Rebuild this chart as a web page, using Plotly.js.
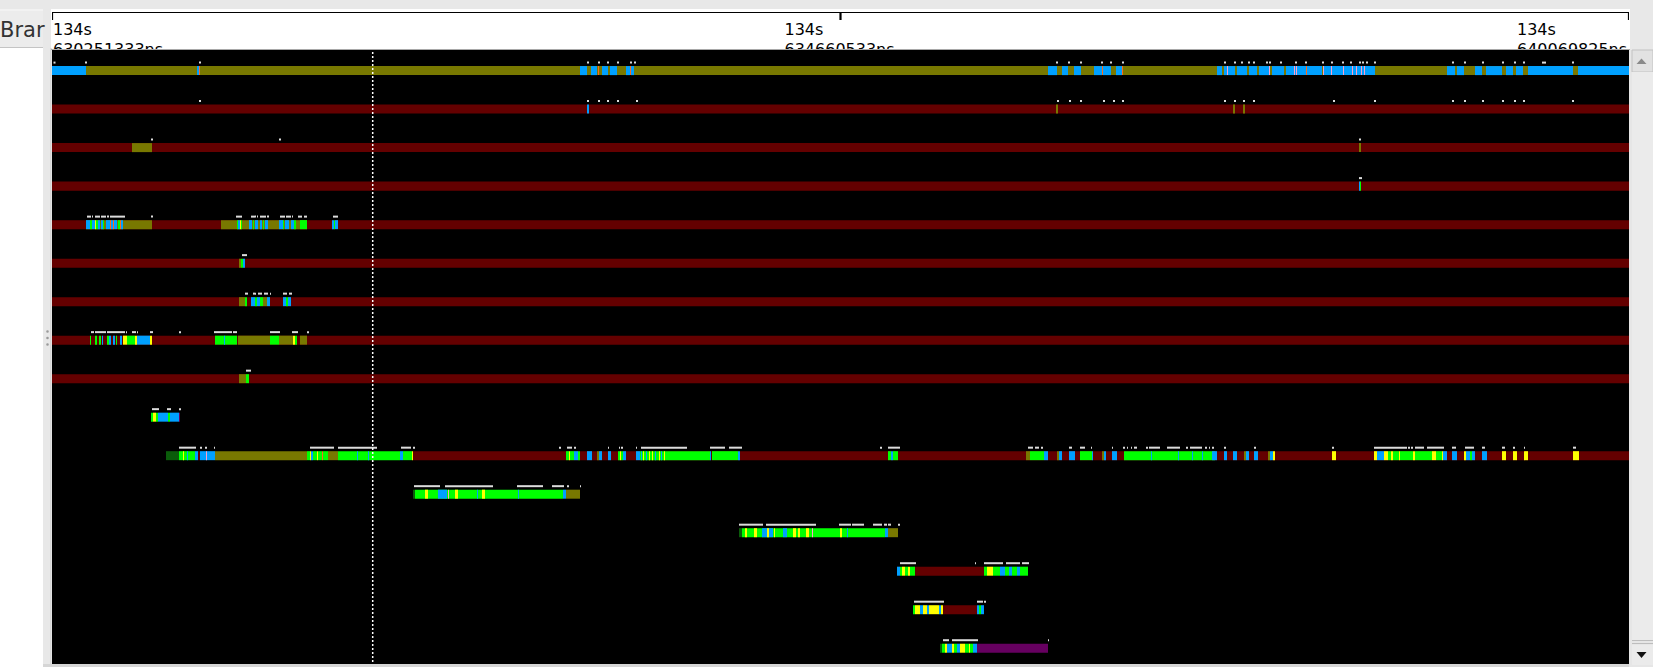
<!DOCTYPE html>
<html>
<head>
<meta charset="utf-8">
<script src="https://cdn.plot.ly/plotly-3.0.1.min.js"></script>
<style>
html,body{margin:0;padding:0;background:#fff;overflow:hidden;}
#chart{width:1653px;height:667px;}
</style>
</head>
<body>
<div id="chart"></div>
<script>
// ---------------- DATA ----------------
// time axis: units of the visible window (0 = window start, 1577 = window end)
const windowRange = [0, 1577];
const tickVals = [0, 788.5, 1577];
const tickLine1 = ['134s', '134s', '134s'];
const tickLine2 = ['630251333ns', '634660533ns', '640069825ns'];
const cursorTime = 320.7;
const sideLabel = 'Brar';

// segments per row: [start, end, state]
const row0 = [[0,1577,'O'],[0,34,'B'],[145,147,'B'],[147,148,'N'],
 [528,535,'B'],[539,545,'B'],[546,547,'N'],[550,556,'B'],[558,565,'B'],[574,578,'B'],[578,579,'N'],[579,582,'B'],
 [996,1005,'B'],[1010,1016,'B'],[1022,1029,'B'],[1042,1050,'B'],[1050,1051,'N'],[1051,1059,'B'],[1064,1070,'B'],[1070,1071,'N'],
 [1165,1170,'B'],[1172,1183,'B'],[1185,1195,'B'],[1197,1205,'B'],[1207,1218,'B'],[1220,1232,'B'],[1234,1270,'B'],[1272,1323,'B'],
 [1175,1176,'K'],[1217,1218,'K'],[1242,1243,'K'],[1244,1245,'K'],[1254,1255,'N'],[1271,1272,'K'],[1279,1280,'K'],[1291,1292,'K'],[1300,1301,'K'],[1304,1305,'K'],[1309,1310,'K'],[1312,1313,'K'],
 [1395,1403,'B'],[1405,1412,'B'],[1423,1430,'B'],[1434,1450,'B'],[1454,1461,'B'],[1464,1471,'B'],[1476,1521,'B'],[1526,1577,'B']];
const row1 = [[0,1577,'R'],[535,537,'B'],[1004,1006,'O'],[1181,1183,'O'],[1191,1193,'O']];
const row2 = [[0,1577,'R'],[80,100,'O'],[1307,1309,'O']];
const row3 = [[0,1577,'R'],[1307,1308,'B'],[1308,1309,'G']];
const row4 = [[0,1577,'R'],[34,100,'O'],[34,38,'B'],[38,40,'G'],[40,43,'B'],[43,44,'Y'],[44,46,'G'],[46,48,'B'],[49,51,'B'],[51,52,'G'],[54,58,'B'],[58,59,'N'],[59,61,'B'],[61,62,'N'],[62,65,'B'],[66,68,'G'],[68,69,'N'],[69,71,'B'],
 [169,255,'O'],[185,186,'G'],[186,188,'B'],[188,189,'Y'],[189,190,'G'],[197,200,'B'],[201,202,'G'],[203,206,'B'],[208,210,'B'],[211,212,'G'],[213,216,'B'],[227,231,'B'],[231,232,'G'],[233,237,'B'],[239,242,'B'],[242,244,'G'],[248,255,'G'],
 [280,282,'B'],[282,283,'G'],[283,286,'B']];
const row5 = [[0,1577,'R'],[187,189,'O'],[189,191,'G'],[191,193,'B']];
const row6 = [[0,1577,'R'],[187,193,'O'],[193,195,'G'],[199,203,'B'],[203,205,'G'],[205,208,'B'],[208,211,'G'],[211,215,'O'],[215,218,'B'],[231,234,'B'],[234,236,'G'],[236,239,'B']];
const row7 = [[0,1577,'R'],[38,39,'G'],[43,45,'G'],[47,49,'G'],[50,51,'B'],[55,57,'G'],[57,59,'B'],[61,63,'B'],[64,65,'G'],[68,70,'B'],[71,75,'Y'],[75,83,'G'],[83,85,'Y'],[85,98,'B'],[98,100,'Y'],
 [163,185,'G'],[172,173,'B'],[186,218,'O'],[218,227,'G'],[227,241,'O'],[241,243,'Y'],[243,245,'G'],[248,255,'O']];
const row8 = [[0,1577,'R'],[187,194,'O'],[194,197,'G']];
const row9 = [[99,101,'G'],[101,104,'Y'],[104,106,'G'],[106,116,'B'],[116,118,'G'],[118,127,'B'],[127,128,'P']];
const row10 = [[114,127,'D'],[127,143,'G'],[131,132,'Y'],[135,136,'B'],[143,146,'B'],[146,148,'R'],[148,163,'B'],[154,155,'K'],[163,255,'O'],
 [255,258,'G'],[258,259,'Y'],[259,261,'B'],[261,265,'G'],[265,266,'Y'],[266,270,'G'],[270,271,'N'],[271,276,'G'],[276,286,'O'],
 [286,348,'G'],[305,306,'B'],[316,317,'B'],[348,351,'B'],[351,360,'G'],[360,361,'Y'],
 [361,1577,'R'],
 [514,517,'G'],[517,518,'Y'],[518,522,'G'],[522,526,'B'],[526,528,'G'],
 [535,540,'B'],[545,547,'O'],[547,550,'B'],[556,559,'B'],[566,568,'G'],[568,569,'Y'],[569,571,'G'],[571,574,'B'],[584,588,'B'],
 [588,625,'G'],[589,590,'B'],[591,592,'Y'],[594,595,'B'],[597,598,'Y'],[600,601,'Y'],[603,604,'B'],[607,608,'Y'],[609,610,'B'],[612,613,'Y'],
 [625,658,'G'],[658,659,'B'],[660,686,'G'],[686,688,'B'],
 [836,839,'G'],[839,841,'B'],[841,846,'G'],
 [974,978,'O'],[978,992,'G'],[992,996,'B'],
 [1005,1007,'O'],[1007,1010,'B'],[1017,1023,'B'],[1028,1040,'G'],[1040,1041,'B'],[1050,1052,'O'],[1052,1054,'B'],[1060,1065,'B'],
 [1072,1163,'G'],[1099,1100,'B'],[1126,1127,'B'],[1140,1141,'B'],[1150,1151,'B'],[1160,1165,'B'],
 [1172,1175,'B'],[1181,1185,'B'],[1192,1194,'O'],[1194,1197,'B'],[1202,1206,'B'],[1216,1218,'O'],[1218,1221,'B'],[1221,1223,'Y'],
 [1280,1284,'Y'],
 [1322,1325,'Y'],[1325,1332,'B'],[1332,1336,'Y'],[1336,1339,'G'],[1339,1341,'Y'],[1341,1347,'G'],[1347,1348,'Y'],[1348,1361,'G'],[1361,1363,'Y'],[1363,1380,'G'],[1380,1384,'Y'],[1384,1390,'G'],[1390,1391,'Y'],[1391,1395,'B'],
 [1400,1405,'B'],[1412,1414,'Y'],[1414,1418,'B'],[1418,1420,'G'],[1420,1423,'B'],[1430,1435,'B'],[1450,1454,'Y'],[1461,1465,'Y'],[1472,1476,'Y'],[1521,1527,'Y']];
const row11 = [[361,363,'D'],[363,511,'G'],[373,376,'Y'],[386,395,'B'],[396,397,'K'],[403,406,'Y'],[425,426,'B'],[430,433,'Y'],[466,467,'B'],[511,514,'B'],[514,528,'O']];
const row12 = [[687,690,'D'],[690,833,'G'],[693,695,'Y'],[702,705,'Y'],[710,721,'B'],[715,717,'Y'],[722,723,'Y'],[731,735,'B'],[741,744,'Y'],[746,748,'Y'],[754,757,'Y'],[760,761,'K'],[788,790,'Y'],[795,796,'B'],[833,836,'B'],[836,846,'O']];
const row13 = [[845,848,'B'],[848,850,'G'],[850,853,'Y'],[853,856,'G'],[856,858,'Y'],[858,863,'G'],[863,932,'R'],[932,935,'G'],[935,941,'Y'],[941,948,'G'],[948,953,'B'],[953,957,'G'],[957,960,'B'],[960,965,'G'],[965,968,'B'],[968,976,'G']];
const row14 = [[861,863,'G'],[863,868,'Y'],[868,871,'B'],[871,875,'Y'],[875,877,'B'],[877,887,'Y'],[887,889,'B'],[889,891,'Y'],[891,925,'R'],[925,927,'B'],[927,929,'G'],[929,932,'B']];
const row15 = [[888,890,'D'],[890,893,'G'],[893,895,'Y'],[895,900,'B'],[900,902,'Y'],[902,905,'G'],[905,908,'B'],[908,913,'Y'],[913,917,'G'],[917,918,'Y'],[918,921,'G'],[921,925,'B'],[925,996,'P']];

// event marks above each row: [start, end]
const marks0 = [[1.5,3.5],[33,35],[147,149],[535,537],[546,548],[555,557],[565,567],[578,580],[582,584],[1004,1006],[1016,1018],[1028,1030],[1049,1051],[1058,1060],[1070,1072],[1172,1174],[1182,1184],[1189,1191],[1196,1198],[1201,1203],[1214,1216],[1217,1219],[1228,1230],[1243,1245],[1253,1255],[1270,1272],[1279,1281],[1290,1292],[1298,1300],[1307,1309],[1310,1312],[1314,1316],[1322,1324],[1400,1402],[1412,1414],[1430,1432],[1450,1452],[1462,1464],[1471,1473],[1490,1494],[1520,1522]];
const marks1 = [[147,149],[535,537],[546,548],[555,557],[565,567],[584,586],[1005,1007],[1017,1019],[1028,1030],[1051,1053],[1061,1063],[1070,1072],[1172,1174],[1182,1184],[1191,1193],[1201,1203],[1281,1283],[1322,1324],[1400,1402],[1412,1414],[1430,1432],[1450,1452],[1462,1464],[1471,1473],[1520,1522]];
const marks2 = [[99,101],[227,229],[1307,1309]];
const marks3 = [[1307,1310]];
const marks4 = [[35,39],[40,41],[43,48],[49,54],[55,57],[58,73],[99,101],[184,190],[199,204],[205,206],[208,214],[215,217],[228,233],[234,239],[240,241],[246,250],[252,255],[281,286]];
const marks5 = [[190,195]];
const marks6 = [[193,196],[201,204],[206,210],[212,216],[218,219],[231,235],[237,240]];
const marks7 = [[39,42],[43,54],[55,73],[74,75],[80,84],[85,86],[98,101],[127,129],[162,180],[181,185],[218,228],[240,246],[255,257]];
const marks8 = [[194,199]];
const marks9 = [[100,107],[115,119],[127,129]];
const marks10 = [[127,144],[148,150],[153,155],[162,163],[258,282],[286,325],[349,359],[361,363],[507,509],[515,520],[522,524],[556,557],[567,568],[569,571],[584,585],[589,635],[658,673],[677,690],[828,830],[836,848],[976,981],[983,987],[989,991],[1017,1020],[1028,1033],[1039,1040],[1060,1061],[1071,1073],[1075,1076],[1079,1080],[1082,1085],[1094,1096],[1097,1108],[1115,1128],[1134,1136],[1138,1150],[1153,1155],[1157,1158],[1160,1162],[1172,1174],[1202,1204],[1280,1282],[1322,1355],[1356,1358],[1359,1361],[1363,1372],[1375,1392],[1400,1404],[1413,1422],[1430,1433],[1450,1453],[1461,1463],[1472,1473],[1521,1524]];
const marks11 = [[362,388],[393,441],[465,491],[500,512],[515,517],[528,529]];
const marks12 = [[687,711],[714,764],[787,799],[800,812],[821,830],[832,835],[836,839],[846,848]];
const marks13 = [[848,864],[923,924],[932,951],[954,968],[970,977]];
const marks14 = [[862,892],[925,931],[932,934]];
const marks15 = [[891,897],[900,926],[996,997]];

// ---------------- STYLE ----------------
const W = 1653, H = 667;
const stateOrder = ['R','O','D','P','G','B','Y','K','N'];
const stateColors = {R:'#640000', O:'#787800', D:'#0a5c0a', P:'#660060', G:'#00ff00', B:'#00a0ff', Y:'#ffff00', K:'#ff9ec8', N:'#ff6a1a'};
const barThickness = 0.234;
const markThickness = 0.052;
const markOffset = -0.234;
const markColor = '#dcdcdc';
const labelWidth = 112;
const labelAnchor = [0, 0.5, 1];

const rows = [row0,row1,row2,row3,row4,row5,row6,row7,row8,row9,row10,row11,row12,row13,row14,row15];
const marks = [marks0,marks1,marks2,marks3,marks4,marks5,marks6,marks7,marks8,marks9,marks10,marks11,marks12,marks13,marks14,marks15];

const traces = [];
stateOrder.forEach(st => {
  const ys = [], bases = [], lens = [];
  rows.forEach((segs, r) => segs.forEach(s => {
    if (s[2] === st) { ys.push(r); bases.push(s[0]); lens.push(s[1] - s[0]); }
  }));
  traces.push({type:'bar', orientation:'h', y:ys, x:lens, base:bases, width:barThickness,
    marker:{color:stateColors[st], line:{width:0}}, hoverinfo:'skip', xaxis:'x', yaxis:'y'});
});
{
  const ys = [], bases = [], lens = [];
  marks.forEach((m, r) => m.forEach(s => { ys.push(r); bases.push(s[0]); lens.push(s[1] - s[0]); }));
  traces.push({type:'bar', orientation:'h', y:ys, x:lens, base:bases, width:markThickness, offset:markOffset,
    marker:{color:markColor, line:{width:0}}, hoverinfo:'skip', xaxis:'x', yaxis:'y'});
}
// cursor line
traces.push({type:'scatter', mode:'lines', x:[cursorTime, cursorTime], y:[-1, 16],
  line:{color:'#ffffff', width:1.5, dash:'2px,2px'}, hoverinfo:'skip', xaxis:'x', yaxis:'y', cliponaxis:true});

// header ruler: top line + tick marks
{
  const rx = [windowRange[0], windowRange[1], null], ry = [1, 1, null];
  tickVals.forEach(v => { rx.push(v, v, null); ry.push(1, 0.784, null); });
  traces.push({type:'scatter', mode:'lines', xaxis:'x2', yaxis:'y2', cliponaxis:false, x:rx, y:ry,
    line:{color:'#000000', width:2.2}, hoverinfo:'skip', connectgaps:false});
}
// header tick labels (clipped by the header area)
const lblX = tickVals.map((v,i) => v - labelWidth*labelAnchor[i] + (i===0 ? 1 : 0));
traces.push({type:'scatter', mode:'text', xaxis:'x2', yaxis:'y2', cliponaxis:true,
  x: lblX, y: [0.476,0.476,0.476], text: tickLine1, textposition:'middle right',
  textfont:{family:'DejaVu Sans, sans-serif', size:16, color:'#000'}, hoverinfo:'skip'});
traces.push({type:'scatter', mode:'text', xaxis:'x2', yaxis:'y2', cliponaxis:true,
  x: lblX, y: [0.16,0.16,0.16], text: tickLine2, textposition:'bottom right',
  textfont:{family:'DejaVu Sans, sans-serif', size:16, color:'#000'}, hoverinfo:'skip'});

const px = x => x / W, py = y => 1 - y / H;
function rect(x0,y0,x1,y1,fill,line){
  return {type:'rect', xref:'paper', yref:'paper', x0:px(x0), x1:px(x1), y0:py(y1), y1:py(y0),
    fillcolor:fill, line: line ? {color:line, width:1} : {width:0}, layer:'below'};
}
function hline(x0,x1,y,color){
  return {type:'line', xref:'paper', yref:'paper', x0:px(x0), x1:px(x1), y0:py(y), y1:py(y), line:{color:color, width:1}, layer:'below'};
}
function tri(pts, fill){
  const d = 'M' + pts.map(p => px(p[0]) + ',' + py(p[1])).join(' L') + ' Z';
  return {type:'path', xref:'paper', yref:'paper', path:d, fillcolor:fill, line:{width:0}, layer:'above'};
}
function dot(x,y,r,fill){
  return {type:'circle', xref:'paper', yref:'paper', x0:px(x-r), x1:px(x+r), y0:py(y+r), y1:py(y-r), fillcolor:fill, line:{width:0}, layer:'above'};
}

const xDomain = [52/W, 1629/W];
const shapes = [
  {type:'rect', xref:'x domain', yref:'y domain', x0:0, x1:1, y0:0, y1:1, fillcolor:'#000000', line:{width:0}, layer:'below'},
  rect(0,0,W,9,'#e8e8e8'),
  rect(0,9,43,48,'#ececec'),
  hline(0,43,10,'#f8f8f8'),
  hline(0,43,47.5,'#c4c4c4'),
  rect(43,9,51,H,'#e8e8e8'),
  {type:'line', xref:'paper', yref:'paper', x0:px(51), x1:px(51), y0:py(48), y1:py(H), line:{color:'#c8c8c8', width:1}, layer:'below'},
  hline(51,1630,49.5,'#a8a8a8'),
  rect(1630,9,W,50,'#e8e8e8'),
  rect(1629,50,W,H,'#e6e6e6'),
  rect(1632,50,W,72,'#e2e2e2','#c2c2c2'),
  rect(1632,72,W,640,'#ebebeb'),
  hline(1632,W,640.5,'#bdbdbd'),
  hline(1632,W,643.5,'#bdbdbd'),
  rect(1632,645,W,665,'#ebebeb'),
  rect(43,664,1629,H,'#d6d6d6'),
  tri([[1636.5,64],[1646.5,64],[1641.5,58.5]], '#8a8a8a'),
  tri([[1636.5,652],[1646.5,652],[1641.5,658]], '#111111'),
  dot(47.5,331.5,1.3,'#9a9a9a'), dot(47.5,338,1.3,'#9a9a9a'), dot(47.5,344.5,1.3,'#9a9a9a')
];

const layout = {
  width:W, height:H, autosize:false,
  margin:{l:0,r:0,t:0,b:0,pad:0},
  paper_bgcolor:'#ffffff', plot_bgcolor:'rgba(0,0,0,0)',
  showlegend:false, barmode:'overlay', hovermode:false,
  xaxis:{domain:xDomain, range:windowRange, visible:false, fixedrange:true},
  yaxis:{domain:[(H-664)/H, (H-50)/H], range:[15.41,-0.535], visible:false, fixedrange:true},
  xaxis2:{domain:xDomain, anchor:'y2', range:windowRange, visible:false, fixedrange:true},
  yaxis2:{domain:[(H-49)/H, (H-12)/H], anchor:'x2', range:[0,1], visible:false, fixedrange:true},
  shapes:shapes,
  annotations:[{xref:'paper', yref:'paper', x:px(-1), y:py(30), xanchor:'left', yanchor:'middle', showarrow:false, borderpad:0,
    text:sideLabel, font:{family:'DejaVu Sans, sans-serif', size:21, color:'#333333'}}]
};

Plotly.newPlot('chart', traces, layout, {staticPlot:true, displayModeBar:false});
</script>
</body>
</html>
